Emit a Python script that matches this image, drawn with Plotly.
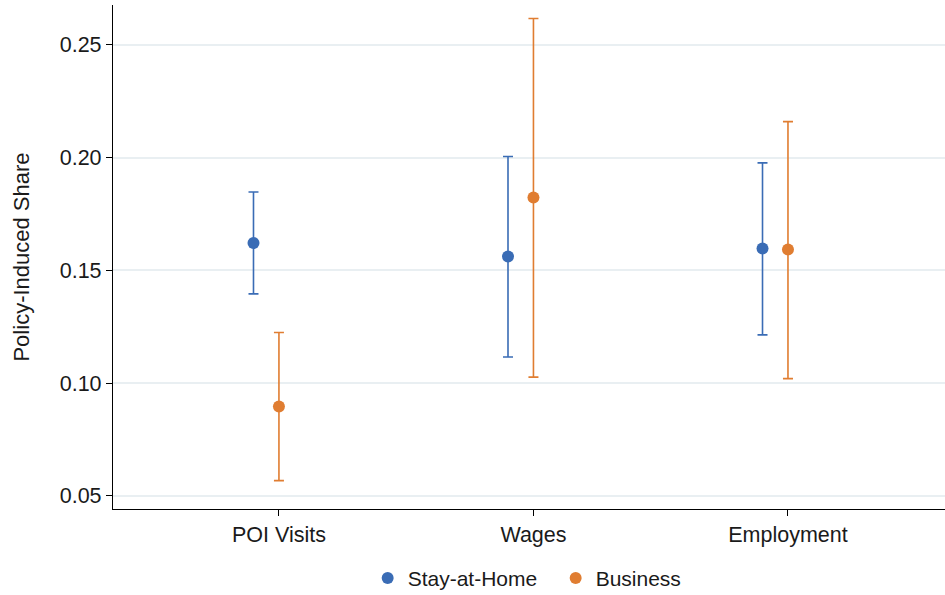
import plotly.graph_objects as go

categories = ["POI Visits", "Wages", "Employment"]
cat_pos = [1, 2, 3]

stay_est = [0.1622, 0.1562, 0.1597]
stay_hi = [0.1848, 0.2005, 0.1977]
stay_lo = [0.1396, 0.1116, 0.1214]

bus_est = [0.0897, 0.1823, 0.1593]
bus_hi = [0.1225, 0.2617, 0.2160]
bus_lo = [0.0568, 0.1027, 0.1020]

y_ticks = [0.05, 0.10, 0.15, 0.20, 0.25]
y_ticklabels = ["0.05", "0.10", "0.15", "0.20", "0.25"]

blue = "#3a6cb5"
orange = "#e07d31"
offset = 0.1

fig = go.Figure()
fig.add_trace(go.Scatter(
    x=[p - offset for p in cat_pos], y=stay_est, mode="markers",
    name="Stay-at-Home",
    marker=dict(color=blue, size=12),
    error_y=dict(type="data", symmetric=False,
                 array=[h - e for h, e in zip(stay_hi, stay_est)],
                 arrayminus=[e - l for e, l in zip(stay_est, stay_lo)],
                 color=blue, thickness=1.6, width=5),
))
fig.add_trace(go.Scatter(
    x=cat_pos, y=bus_est, mode="markers",
    name="Business",
    marker=dict(color=orange, size=12),
    error_y=dict(type="data", symmetric=False,
                 array=[h - e for h, e in zip(bus_hi, bus_est)],
                 arrayminus=[e - l for e, l in zip(bus_est, bus_lo)],
                 color=orange, thickness=1.6, width=5),
))

fig.update_layout(
    width=945, height=595,
    margin=dict(l=113, r=0, t=5, b=86, autoexpand=False),
    paper_bgcolor="white", plot_bgcolor="white",
    font=dict(family="Liberation Sans, Arial, sans-serif", size=21, color="#1a1a1a"),
    showlegend=True,
    legend=dict(orientation="h", x=0.588, xref="container", xanchor="center",
                y=0.028, yref="container", yanchor="middle",
                font=dict(size=21), itemsizing="constant", traceorder="normal",
                entrywidth=143),
    xaxis=dict(range=[0.348, 3.617], tickvals=cat_pos, ticktext=categories,
               showgrid=False, zeroline=False, showline=True, linecolor="black",
               linewidth=1.2, ticks="outside", ticklen=6, tickcolor="black",
               tickfont=dict(size=21.5)),
    yaxis=dict(range=[0.0442, 0.2677], tickvals=y_ticks, ticktext=y_ticklabels,
               showgrid=True, gridcolor="#e9eff2", gridwidth=1.5, zeroline=False,
               showline=True, linecolor="black", linewidth=1.2,
               ticks="outside", ticklen=6, tickcolor="black",
               tickfont=dict(size=21.5),
               title=dict(text="Policy-Induced Share", font=dict(size=22), standoff=24)),
)

fig.write_html("out.html", config={"displayModeBar": False},
               post_script="document.body.style.margin='0px';document.body.style.overflow='hidden';")
